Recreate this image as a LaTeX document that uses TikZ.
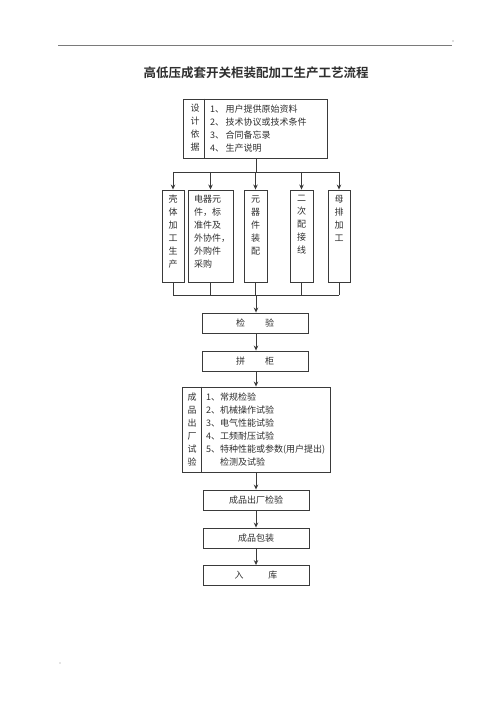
\documentclass[tikz,border=0pt]{standalone}
\usepackage{fontspec}
\setmainfont{Noto Sans CJK SC}[BoldFont={Noto Sans CJK SC Bold}]
\usetikzlibrary{arrows.meta,calc}
\definecolor{border}{HTML}{3A3A3A}
\definecolor{ink}{HTML}{2E2E2E}
\definecolor{rule}{HTML}{7A7A7A}
\tikzset{
  box/.style={draw=border, line width=0.9pt, inner sep=0pt},
  stepbox/.style={box, minimum width=106pt, minimum height=20pt, text=ink, font=\fontsize{9}{13}\selectfont},
  tallbox/.style={box, minimum height=92pt},
  wire/.style={draw=border, line width=0.9pt},
  arr/.style={-{Stealth[length=5pt,width=4.5pt]}, wire},
  txt/.style={inner sep=0pt, text=ink, font=\fontsize{9}{13}\selectfont},
  col/.style={txt, align=center, anchor=north},
  lst/.style={txt, align=left, anchor=west}
}

\begin{document}
\begin{tikzpicture}[x=1pt, y=-1pt]
  \useasboundingbox (0,0) rectangle (500,708);
  \draw[rule, line width=0.8pt] (58,45) -- (452,45);
  \fill[rule!50] (453,41) circle (0.8pt);
  \fill[rule!40] (60,663) circle (0.8pt);

  \node[txt, font=\fontsize{12.5}{15}\selectfont\bfseries] (title) at (256,73)
    {高低压成套开关柜装配加工生产工艺流程};

  % Design basis
  \node[box, minimum width=144pt, minimum height=59pt] (design) at (255,128.5) {};
  \draw[wire] ($(design.north west)+(22,0)$) -- ($(design.south west)+(22,0)$);
  \node[col] (designL) at (195,104) {设\\计\\依\\据};
  \node[lst] (designR) at (210,128.5)
    {1、\,用户提供原始资料\\2、\,技术协议或技术条件\\3、\,合同备忘录\\4、\,生产说明};

  % Parallel work
  \node[tallbox, minimum width=22pt] (shell) at (173,236) {};
  \node[tallbox, minimum width=45pt] (buy)   at (210.5,236) {};
  \node[tallbox, minimum width=23pt] (mount) at (255.5,236) {};
  \node[tallbox, minimum width=23pt] (wiring) at (301.5,236) {};
  \node[tallbox, minimum width=22pt] (bus)   at (339,236) {};
  \node[col] at (shell.north |- 0,195) {壳\\体\\加\\工\\生\\产};
  \node[txt, align=left, anchor=north west] at (194,195) {电器元\\件，标\\准件及\\外协件，\\外购件\\采购};
  \node[col] at (mount.north |- 0,195) {元\\器\\件\\装\\配};
  \node[col] at (wiring.north |- 0,195) {二\\次\\配\\接\\线};
  \node[col] at (bus.north |- 0,195) {母\\排\\加\\工};

  \coordinate (busT) at (256,172);
  \coordinate (busB) at (256,295);
  \draw[wire] (design.south -| busT) -- (busT);
  \draw[wire] (shell.north |- busT) -- (bus.north |- busT);
  \foreach \n in {shell,buy,mount,wiring,bus}{
    \draw[arr] (\n.north |- busT) -- (\n.north);
    \draw[wire] (\n.south) -- (\n.south |- busB);
  }
  \draw[wire] (shell.south |- busB) -- (bus.south |- busB);

  % Main line
  \node[stepbox] (check) at (255,323) {检\hspace{20pt}验};
  \node[stepbox] (join)  at (255,361) {拼\hspace{20pt}柜};
  \node[box, minimum width=148pt, minimum height=85pt] (test) at (256,429.5) {};
  \draw[wire] ($(test.north west)+(20,0)$) -- ($(test.south west)+(20,0)$);
  \node[txt, align=center] (testL) at (192,430) {成\\品\\出\\厂\\试\\验};
  \node[lst] (testR) at (206,430)
    {1、常规检验\\2、机械操作试验\\3、电气性能试验\\4、工频耐压试验\\5、特种性能或参数(用户提出)\\\phantom{5、}检测及试验};
  \node[stepbox] (final) at (256,500) {成品出厂检验};
  \node[stepbox] (pack)  at (256,538) {成品包装};
  \node[stepbox] (store) at (256,575.5) {入\hspace{25pt}库};

  \draw[arr] (busB) -- (check.north -| busB);
  \draw[arr] (check.south -| busB) -- (join.north -| busB);
  \draw[arr] (join.south -| busB) -- (test.north -| busB);
  \draw[arr] (test.south -| busB) -- (final.north -| busB);
  \draw[arr] (final.south -| busB) -- (pack.north -| busB);
  \draw[arr] (pack.south -| busB) -- (store.north -| busB);
\end{tikzpicture}
\end{document}
